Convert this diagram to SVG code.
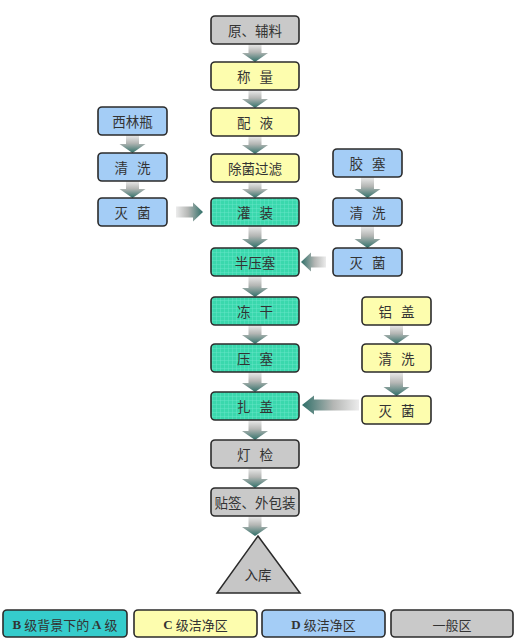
<svg xmlns="http://www.w3.org/2000/svg" width="520" height="640" viewBox="0 0 520 640">
<style>
.box{stroke:#2b2b2b;stroke-width:1.6}
.g{fill:#c9c9c9}
.y{fill:#fdfdae}
.b{fill:#a4cdf6}
.lbl{font-family:"Noto Sans CJK SC","Liberation Serif",serif;font-size:13.5px;fill:#333333;text-anchor:middle;dominant-baseline:central;word-spacing:6px}
.leg{font-family:"Noto Sans CJK SC","Liberation Serif",serif;font-size:13px;fill:#333333;text-anchor:middle;dominant-baseline:central}
.lat{font-family:"Liberation Serif",serif;font-weight:bold}
.ad{fill:url(#gd)}
.ar{fill:url(#gr)}
.al{fill:url(#gl)}
</style>
<defs>
<pattern id="gridp" width="4" height="4" patternUnits="userSpaceOnUse">
<rect width="4" height="4" fill="#3ad8ad"/>
<path d="M0,0.25H4M0.25,0V4" stroke="#70e6cc" stroke-width="0.5"/>
</pattern>
<linearGradient id="gd" x1="0" y1="0" x2="0" y2="1">
<stop offset="0" stop-color="#ececec"/>
<stop offset="0.45" stop-color="#b4b6b4"/>
<stop offset="1" stop-color="#2f6f68"/>
</linearGradient>
<linearGradient id="gr" x1="0" y1="0" x2="1" y2="0">
<stop offset="0" stop-color="#ececec"/>
<stop offset="0.45" stop-color="#b4b6b4"/>
<stop offset="1" stop-color="#2f6f68"/>
</linearGradient>
<linearGradient id="gl" x1="1" y1="0" x2="0" y2="0">
<stop offset="0" stop-color="#ececec"/>
<stop offset="0.45" stop-color="#b4b6b4"/>
<stop offset="1" stop-color="#2f6f68"/>
</linearGradient>
</defs>
<rect width="520" height="640" fill="#ffffff"/>
<g id="connectors">
<path class="ad" d="M248.5,44H261.5V53H268L255,62L242,53H248.5Z"/>
<path class="ad" d="M248.5,90H261.5V99H268L255,108L242,99H248.5Z"/>
<path class="ad" d="M248.5,136H261.5V145H268L255,154L242,145H248.5Z"/>
<path class="ad" d="M248.5,182H261.5V189H268L255,198L242,189H248.5Z"/>
<path class="ad" d="M248.5,226H261.5V239H268L255,248L242,239H248.5Z"/>
<path class="ad" d="M248.5,276H261.5V288H268L255,297L242,288H248.5Z"/>
<path class="ad" d="M248.5,325H261.5V335H268L255,344L242,335H248.5Z"/>
<path class="ad" d="M248.5,372H261.5V383H268L255,392L242,383H248.5Z"/>
<path class="ad" d="M248.5,420H261.5V431H268L255,440L242,431H248.5Z"/>
<path class="ad" d="M248.5,468H261.5V479H268L255,488L242,479H248.5Z"/>
<path class="ad" d="M248.5,516H261.5V527H268L255,536L242,527H248.5Z"/>
<path class="ad" d="M126,135H139V144H145.5L132.5,153L119.5,144H126Z"/>
<path class="ad" d="M126,181H139V189H145.5L132.5,198L119.5,189H126Z"/>
<path class="ad" d="M361,177H374V189H380.5L367.5,198L354.5,189H361Z"/>
<path class="ad" d="M361,226H374V239H380.5L367.5,248L354.5,239H361Z"/>
<path class="ad" d="M390,325H403V335H409.5L396.5,344L383.5,335H390Z"/>
<path class="ad" d="M390,372H403V387H409.5L396.5,396L383.5,387H390Z"/>
<path class="ar" d="M176,206.5H193V202.5L203,212L193,221.5V217.5H176Z"/>
<path class="al" d="M326,256.5H311V252.5L301,262L311,271.5V267.5H326Z"/>
<path class="al" d="M359,399.5H314V395.5L302,405L314,414.5V410.5H359Z"/>
</g>
<g id="n1"><rect class="box g" x="211" y="16" width="88" height="28" rx="4"/><text class="lbl" x="255" y="30">原、辅料</text></g>
<g id="n2"><rect class="box y" x="211" y="62" width="88" height="28" rx="4"/><text class="lbl" x="255" y="76">称 量</text></g>
<g id="n3"><rect class="box y" x="211" y="108" width="88" height="28" rx="4"/><text class="lbl" x="255" y="122">配 液</text></g>
<g id="n4"><rect class="box y" x="211" y="154" width="88" height="28" rx="4"/><text class="lbl" x="255" y="168">除菌过滤</text></g>
<g id="n5"><rect class="box" fill="url(#gridp)" x="211" y="198" width="88" height="28" rx="4"/><text class="lbl" x="255" y="212">灌 装</text></g>
<g id="n6"><rect class="box" fill="url(#gridp)" x="211" y="248" width="88" height="28" rx="4"/><text class="lbl" x="255" y="262">半压塞</text></g>
<g id="n7"><rect class="box" fill="url(#gridp)" x="211" y="297" width="88" height="28" rx="4"/><text class="lbl" x="255" y="311">冻 干</text></g>
<g id="n8"><rect class="box" fill="url(#gridp)" x="211" y="344" width="88" height="28" rx="4"/><text class="lbl" x="255" y="358">压 塞</text></g>
<g id="n9"><rect class="box" fill="url(#gridp)" x="211" y="392" width="88" height="28" rx="4"/><text class="lbl" x="255" y="406">扎 盖</text></g>
<g id="n10"><rect class="box g" x="211" y="440" width="88" height="28" rx="4"/><text class="lbl" x="255" y="454">灯 检</text></g>
<g id="n11"><rect class="box g" x="211" y="488" width="88" height="28" rx="4"/><text class="lbl" x="255" y="502">贴签、外包装</text></g>
<g id="n12"><path d="M258,536L300,593H217Z" fill="#c6c6c6" stroke="#2b2b2b" stroke-width="1.5"/><text class="lbl" x="258" y="574">入库</text></g>
<g id="l1"><rect class="box b" x="98" y="107" width="69" height="28" rx="4"/><text class="lbl" x="132.5" y="121">西林瓶</text></g>
<g id="l2"><rect class="box b" x="98" y="153" width="69" height="28" rx="4"/><text class="lbl" x="132.5" y="167">清 洗</text></g>
<g id="l3"><rect class="box b" x="98" y="198" width="69" height="28" rx="4"/><text class="lbl" x="132.5" y="212">灭 菌</text></g>
<g id="r1"><rect class="box b" x="333" y="149" width="69" height="28" rx="4"/><text class="lbl" x="367.5" y="163">胶 塞</text></g>
<g id="r2"><rect class="box b" x="333" y="198" width="69" height="28" rx="4"/><text class="lbl" x="367.5" y="212">清 洗</text></g>
<g id="r3"><rect class="box b" x="333" y="248" width="69" height="28" rx="4"/><text class="lbl" x="367.5" y="262">灭 菌</text></g>
<g id="a1"><rect class="box y" x="362" y="297" width="69" height="28" rx="4"/><text class="lbl" x="396.5" y="311">铝 盖</text></g>
<g id="a2"><rect class="box y" x="362" y="344" width="69" height="28" rx="4"/><text class="lbl" x="396.5" y="358">清 洗</text></g>
<g id="a3"><rect class="box y" x="362" y="396" width="69" height="28" rx="4"/><text class="lbl" x="396.5" y="410">灭 菌</text></g>
<g id="legend">
<rect class="box" fill="#35cccc" x="3" y="610" width="124" height="27" rx="4"/>
<text class="leg" x="65" y="624"><tspan class="lat">B</tspan> 级背景下的 <tspan class="lat">A</tspan> 级</text>
<rect class="box y" x="134" y="610" width="123" height="27" rx="4"/>
<text class="leg" x="195.5" y="624"><tspan class="lat">C</tspan> 级洁净区</text>
<rect class="box b" x="262" y="610" width="123" height="27" rx="4"/>
<text class="leg" x="323.5" y="624"><tspan class="lat">D</tspan> 级洁净区</text>
<rect class="box g" x="391" y="610" width="122" height="27" rx="4"/>
<text class="leg" x="452" y="624">一般区</text>
</g>
</svg>
